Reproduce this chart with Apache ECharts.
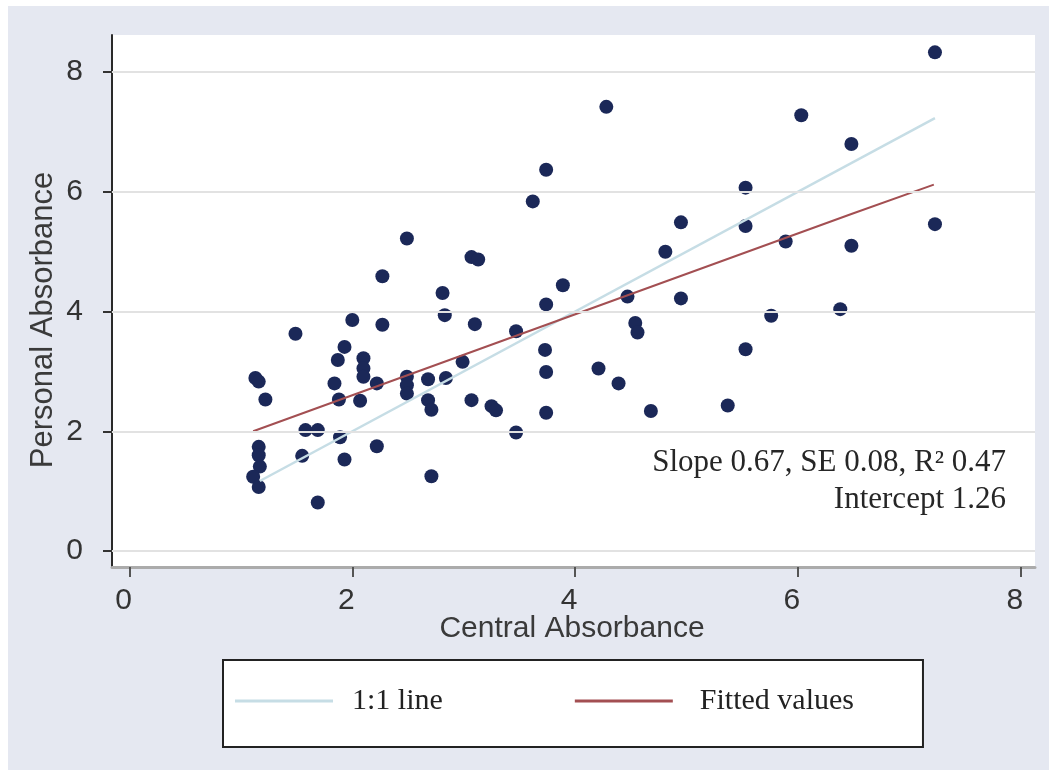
<!DOCTYPE html>
<html><head><meta charset="utf-8">
<script src="https://cdn.jsdelivr.net/npm/echarts@6/dist/echarts.min.js"></script>
<style>html,body{margin:0;padding:0;background:#fff}#c{width:1057px;height:776px}</style>
</head><body><div id="c"></div>
<script>
// Observations: Central Absorbance (x) vs Personal Absorbance (y)
const centralX = [1.13,1.16,1.22,1.16,1.16,1.17,1.11,1.16,1.49,1.58,1.69,1.55,1.69,1.84,1.88,1.89,1.93,1.93,1.87,2.00,
  2.07,2.10,2.10,2.10,2.22,2.22,2.27,2.27,2.49,2.49,2.49,2.49,2.68,2.68,2.71,2.71,2.81,2.83,2.84,2.99,
  3.07,3.13,3.10,3.07,3.25,3.29,3.47,3.47,3.62,3.74,3.74,3.73,3.74,3.74,3.89,4.21,4.28,4.39,4.47,4.54,
  4.56,4.68,4.81,4.95,4.95,5.37,5.53,5.53,5.53,5.76,5.89,6.03,6.38,6.48,6.48,7.23,7.23];
const personalY = [2.89,2.83,2.53,1.74,1.60,1.41,1.24,1.07,3.63,2.02,2.02,1.59,0.81,2.80,2.53,1.90,1.53,3.41,3.19,3.86,
  2.51,3.22,3.05,2.91,2.80,1.75,4.59,3.78,5.22,2.91,2.77,2.63,2.87,2.52,2.36,1.25,4.31,3.94,2.89,3.16,
  4.91,4.87,3.79,2.52,2.42,2.35,3.67,1.98,5.84,6.37,4.12,3.36,2.99,2.31,4.44,3.05,7.42,2.80,4.25,3.81,
  3.65,2.34,5.00,5.49,4.22,2.43,6.07,5.43,3.37,3.93,5.17,7.28,4.04,6.80,5.10,8.33,5.46];
// 1:1 line endpoints
const oneToOneX = [1.17, 7.23];
const oneToOneY = [1.17, 7.23];
// Fitted values line
const fittedX = [1.11, 6.48, 7.22];
const fittedY = [2.00, 5.63, 6.12];
// Tick labels
const xTicks = [0, 2, 4, 6, 8];
const yTicks = [0, 2, 4, 6, 8];
const seriesNames = ['1:1 line', 'Fitted values'];
const annotation = ['Slope 0.67, SE 0.08, R\u00B2 0.47', 'Intercept 1.26'];
const xTitle = 'Central Absorbance';
const yTitle = 'Personal Absorbance';

const zip = (a, b) => a.map((v, i) => [v, b[i]]);
const sans = 'Liberation Sans, Arial, sans-serif';
const serif = 'Liberation Serif, Times New Roman, serif';

const chart = echarts.init(document.getElementById('c'));
chart.setOption({
  animation: false,
  backgroundColor: '#ffffff',
  graphic: [
    { type: 'rect', z: -10, shape: { x: 8, y: 6, width: 1041, height: 764 }, style: { fill: '#e5e8f1' } },
    { type: 'text', x: 572, y: 629, style: { text: xTitle, font: '30px ' + sans, fill: '#3a3a3a', align: 'center', verticalAlign: 'middle' } },
    { type: 'text', x: 43, y: 320, rotation: Math.PI / 2, style: { text: yTitle, font: '31px ' + sans, fill: '#3a3a3a', align: 'center', verticalAlign: 'middle' } },
    { type: 'text', x: 1006, y: 463, z: 10, style: { text: annotation[0], font: '31px ' + serif, fill: '#262626', align: 'right', verticalAlign: 'middle' } },
    { type: 'text', x: 1006, y: 500, z: 10, style: { text: annotation[1], font: '31px ' + serif, fill: '#262626', align: 'right', verticalAlign: 'middle' } }
  ],
  grid: { left: 112, right: 22, top: 35, bottom: 209, show: true, backgroundColor: '#ffffff', borderWidth: 0 },
  xAxis: {
    type: 'value', min: -0.157, max: 8.128,
    axisLine: { show: true, onZero: false, lineStyle: { color: '#ababab', width: 3 } },
    axisTick: { show: true, customValues: xTicks, length: 10, lineStyle: { color: '#555', width: 2 } },
    axisLabel: { customValues: xTicks, fontSize: 30, fontFamily: sans, color: '#333', margin: 19, padding: [0, 12, 0, 0] },
    splitLine: { show: false }
  },
  yAxis: {
    type: 'value', min: -0.267, max: 8.62,
    axisLine: { show: true, onZero: false, lineStyle: { color: '#2a2a2a', width: 2 } },
    axisTick: { show: true, customValues: yTicks, length: 9, lineStyle: { color: '#333', width: 2 } },
    axisLabel: { customValues: yTicks, fontSize: 30, fontFamily: sans, color: '#333', margin: 29 },
    splitLine: { show: false }
  },
  legend: {
    data: [
      { name: seriesNames[0], icon: 'rect', textStyle: { padding: [0, 0, 0, 14] } },
      { name: seriesNames[1], icon: 'rect', textStyle: { padding: [0, 0, 12, 22] } }
    ],
    left: 223, top: 660,
    itemWidth: 98, itemHeight: 3, itemGap: 132,
    padding: [20, 69, 25, 12],
    backgroundColor: '#ffffff', borderColor: '#222', borderWidth: 2, borderRadius: 0,
    textStyle: { fontFamily: serif, fontSize: 30, color: '#222', lineHeight: 30 }
  },
  series: [
    {
      type: 'line', name: 'grid', data: [], z: 1, silent: true,
      markLine: {
        silent: true, symbol: ['none', 'none'], label: { show: false },
        lineStyle: { color: '#e2e2e2', width: 2, type: 'solid' },
        data: yTicks.map(v => ({ yAxis: v }))
      }
    },
    {
      type: 'scatter', name: 'obs', data: zip(centralX, personalY), symbol: 'circle', symbolSize: 14, z: 2,
      itemStyle: { color: '#1b2858', opacity: 1 }
    },
    {
      type: 'line', name: seriesNames[0], data: zip(oneToOneX, oneToOneY), symbol: 'none', z: 3,
      lineStyle: { color: '#c6dde5', width: 2.5 }, itemStyle: { color: '#c6dde5' }
    },
    {
      type: 'line', name: seriesNames[1], data: zip(fittedX, fittedY), symbol: 'none', z: 4,
      lineStyle: { color: '#a34f52', width: 2 }, itemStyle: { color: '#a34f52' }
    }
  ]
});
</script></body></html>
